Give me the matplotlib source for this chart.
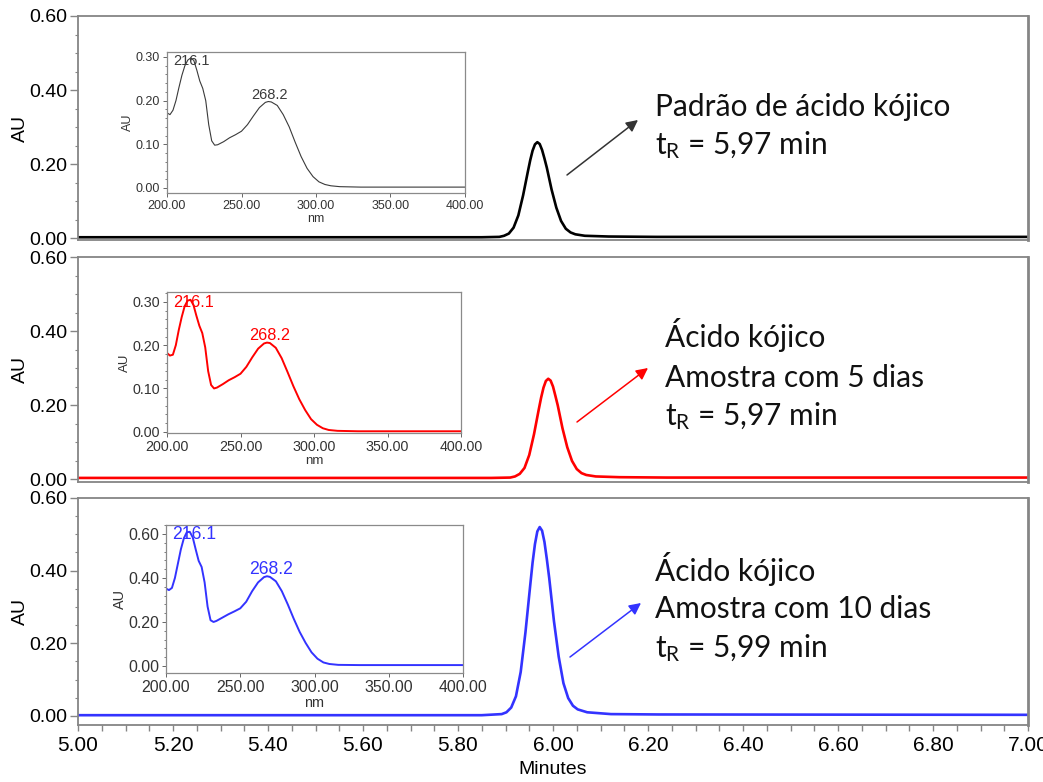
import matplotlib
matplotlib.use("Agg")
import matplotlib.pyplot as plt
from matplotlib.ticker import MultipleLocator, FormatStrFormatter

plt.rcParams['mathtext.fontset'] = 'custom'
plt.rcParams['mathtext.rm'] = 'Lato'
plt.rcParams['mathtext.it'] = 'Lato:italic'

# ---------------- data ----------------
# chromatograms (Minutes, AU)
time_black = [5.00, 5.85, 5.887, 5.897, 5.907, 5.917, 5.927, 5.937, 5.947, 5.952, 5.957, 5.962, 5.967,
              5.972, 5.977, 5.982, 5.987, 5.997, 6.007, 6.017, 6.027, 6.037, 6.047, 6.067, 6.117, 6.217, 7.00]
au_black = [0.002, 0.002, 0.003, 0.006, 0.012, 0.028, 0.061, 0.115, 0.179, 0.210, 0.236, 0.253, 0.259,
            0.254, 0.238, 0.215, 0.190, 0.131, 0.082, 0.046, 0.025, 0.015, 0.010, 0.006, 0.004, 0.003, 0.003]

time_red = [5.00, 5.87, 5.910, 5.920, 5.930, 5.940, 5.950, 5.960, 5.970, 5.975, 5.980, 5.985, 5.990,
            5.995, 6.000, 6.005, 6.010, 6.020, 6.030, 6.040, 6.050, 6.060, 6.070, 6.090, 6.140, 6.240, 7.00]
au_red = [0.003, 0.003, 0.004, 0.007, 0.014, 0.030, 0.065, 0.121, 0.188, 0.220, 0.247, 0.265, 0.271,
          0.266, 0.250, 0.225, 0.199, 0.137, 0.086, 0.049, 0.027, 0.016, 0.011, 0.007, 0.005, 0.004, 0.004]

time_blue = [5.00, 5.85, 5.892, 5.902, 5.912, 5.922, 5.932, 5.942, 5.952, 5.957, 5.962, 5.967, 5.972,
             5.977, 5.982, 5.987, 5.992, 6.002, 6.012, 6.022, 6.032, 6.042, 6.052, 6.072, 6.122, 6.222, 7.00]
au_blue = [0.002, 0.002, 0.005, 0.010, 0.023, 0.054, 0.121, 0.230, 0.359, 0.422, 0.473, 0.508, 0.520,
           0.510, 0.479, 0.432, 0.380, 0.261, 0.163, 0.090, 0.049, 0.028, 0.018, 0.010, 0.005, 0.004, 0.003]

# UV spectra (nm, AU)
wavelength = [200, 202, 204, 206, 208, 210, 212, 214, 216, 218, 220, 222, 224, 226, 228, 230, 232, 234,
              238, 242, 246, 250, 254, 258, 262, 266, 268, 270, 274, 278, 282, 286, 290, 294, 298, 302,
              306, 310, 316, 330, 360, 400]
spec_black = [0.172, 0.168, 0.178, 0.200, 0.230, 0.258, 0.280, 0.293, 0.298, 0.292, 0.270, 0.245, 0.228,
              0.200, 0.145, 0.108, 0.098, 0.099, 0.106, 0.115, 0.122, 0.130, 0.145, 0.165, 0.184, 0.196,
              0.198, 0.197, 0.189, 0.168, 0.140, 0.105, 0.072, 0.045, 0.026, 0.014, 0.008, 0.005, 0.003,
              0.002, 0.002, 0.002]
spec_red = [0.182, 0.176, 0.178, 0.200, 0.235, 0.265, 0.290, 0.303, 0.305, 0.293, 0.268, 0.245, 0.228,
            0.195, 0.140, 0.108, 0.100, 0.102, 0.110, 0.119, 0.126, 0.134, 0.150, 0.172, 0.192, 0.204,
            0.206, 0.205, 0.194, 0.170, 0.138, 0.105, 0.075, 0.050, 0.029, 0.016, 0.008, 0.004, 0.002,
            0.001, 0.001, 0.001]
spec_blue = [0.352, 0.345, 0.355, 0.400, 0.465, 0.530, 0.580, 0.608, 0.610, 0.585, 0.530, 0.478, 0.450,
             0.380, 0.270, 0.208, 0.200, 0.205, 0.220, 0.235, 0.248, 0.262, 0.292, 0.340, 0.380, 0.404,
             0.408, 0.405, 0.385, 0.340, 0.280, 0.215, 0.155, 0.105, 0.062, 0.033, 0.016, 0.009, 0.005,
             0.004, 0.004, 0.004]

peak_wavelengths = [216.1, 268.2]
peak_labels = ["216.1", "268.2"]

main_ticks = [0.00, 0.20, 0.40, 0.60]
x_ticks = [5.00, 5.20, 5.40, 5.60, 5.80, 6.00, 6.20, 6.40, 6.60, 6.80, 7.00]

texts_1 = ["Padrão de ácido kójico", "t$_\\mathrm{R}$ = 5,97 min"]
texts_2 = ["Ácido kójico", "Amostra com 5 dias", "t$_\\mathrm{R}$ = 5,97 min"]
texts_3 = ["Ácido kójico", "Amostra com 10 dias", "t$_\\mathrm{R}$ = 5,99 min"]

# ---------------- layout ----------------
W, H = 1043, 782
fig = plt.figure(figsize=(W / 100, H / 100), dpi=100)


def rect(l, t, r, b):
    return [l / W, 1 - b / H, (r - l) / W, (b - t) / H]


def fx(px):
    return px / W


def fy(py):
    return 1 - py / H


SP = '#858585'
arial = ['Liberation Sans', 'DejaVu Sans']

panels = [
    dict(rect=rect(78, 16, 1028, 240), ylim=(-0.0054, 0.60), t=time_black, y=au_black, c='black',
         inset=rect(167, 52, 465, 193), iylim=(-0.0115, 0.3114), spec=spec_black, ic='#3a3a3a', ilw=0.8,
         iticks=[0.0, 0.1, 0.2, 0.3], iminor=0.02, ifs=9, pfs=10.5, nfs=9,
         texts=texts_1, tx=655, tys=[116, 154], arrow=((567, 175), (638, 120)), ac='#333333'),
    dict(rect=rect(78, 257, 1028, 482), ylim=(-0.008, 0.60), t=time_red, y=au_red, c='#ff0000',
         inset=rect(167, 292, 461, 433), iylim=(-0.003, 0.323), spec=spec_red, ic='#ff0000', ilw=1.4,
         iticks=[0.0, 0.1, 0.2, 0.3], iminor=0.02, ifs=10.3, pfs=11.7, nfs=9.5,
         texts=texts_2, tx=665, tys=[347, 387, 425], arrow=((577, 422), (648, 368)), ac='#ff0000'),
    dict(rect=rect(78, 498, 1028, 725), ylim=(-0.025, 0.60), t=time_blue, y=au_blue, c='#3333ff',
         inset=rect(166, 525, 463, 673), iylim=(-0.032, 0.641), spec=spec_blue, ic='#3333ff', ilw=1.4,
         iticks=[0.0, 0.2, 0.4, 0.6], iminor=0.04, ifs=11.4, pfs=12.7, nfs=10.4,
         texts=texts_3, tx=655, tys=[581, 618, 657], arrow=((570, 657), (641, 603)), ac='#3333ff'),
]

for i, p in enumerate(panels):
    ax = fig.add_axes(p['rect'])
    ax.plot(p['t'], p['y'], color=p['c'], lw=1.9, solid_joinstyle='round')
    ax.set_xlim(5.0, 7.0)
    ax.set_ylim(*p['ylim'])
    ax.set_yticks(main_ticks)
    ax.yaxis.set_minor_locator(MultipleLocator(0.05))
    ax.yaxis.set_major_formatter(FormatStrFormatter('%.2f'))
    for s in ax.spines.values():
        s.set_color(SP)
        s.set_linewidth(1.3)
    ax.spines['right'].set_linewidth(2.0)
    ax.tick_params(axis='y', which='major', length=6, width=1.0, color=SP, pad=1.5, labelsize=14)
    ax.tick_params(axis='y', which='minor', length=2.5, width=0.8, color=SP)
    for lab in ax.get_yticklabels():
        lab.set_family(arial)
    ax.set_ylabel('AU', fontsize=14, family=arial)
    ax.yaxis.set_label_coords((29 - 78) / 950, 0.5)
    if i < 2:
        ax.set_xticks([])
    else:
        ax.set_xticks(x_ticks)
        ax.xaxis.set_major_formatter(FormatStrFormatter('%.2f'))
        ax.xaxis.set_minor_locator(MultipleLocator(0.05))
        ax.tick_params(axis='x', which='both', length=4, width=1.0, color=SP, pad=4, labelsize=15)
        for lab in ax.get_xticklabels():
            lab.set_family(arial)
        ax.set_xlabel('Minutes', fontsize=14, family=arial, labelpad=4)

    # inset spectrum
    ia = fig.add_axes(p['inset'])
    ia.plot(wavelength, p['spec'], color=p['ic'], lw=p['ilw'])
    ia.set_xlim(200, 400)
    ia.set_ylim(*p['iylim'])
    ia.set_xticks([200, 250, 300, 350, 400])
    ia.set_yticks(p['iticks'])
    ia.yaxis.set_minor_locator(MultipleLocator(p['iminor']))
    ia.xaxis.set_major_formatter(FormatStrFormatter('%.2f'))
    ia.yaxis.set_major_formatter(FormatStrFormatter('%.2f'))
    for s in ia.spines.values():
        s.set_color('#8a8a8a')
        s.set_linewidth(0.9)
    ia.tick_params(which='major', length=3, width=0.7, color='#666666', labelsize=p['ifs'],
                   labelcolor='#333333', pad=2)
    ia.tick_params(which='minor', length=1.5, width=0.6, color='#666666')
    for lab in ia.get_xticklabels() + ia.get_yticklabels():
        lab.set_family(arial)
    ia.set_xlabel('nm', fontsize=p['nfs'], family=arial, color='#333333', labelpad=1)
    ia.set_ylabel('AU', fontsize=p['nfs'], family=arial, color='#333333', labelpad=1)
    for k, (wl, lbl) in enumerate(zip(peak_wavelengths, peak_labels)):
        j = min(range(len(wavelength)), key=lambda n: abs(wavelength[n] - wl))
        dy = -2 if k == 0 else 5
        ia.annotate(lbl, xy=(wl, p['spec'][j]), xytext=(-12.8, dy), textcoords='offset points',
                    ha='left', va='center', fontsize=p['pfs'], color=p['ic'], family=arial)

    # text annotations
    for txt, ty in zip(p['texts'], p['tys']):
        fig.text(fx(p['tx']), fy(ty), txt, ha='left', va='baseline', fontsize=21.5, family='Lato',
                 color='#111111')
    (x0, y0), (x1, y1) = p['arrow']
    fig.add_artist(matplotlib.patches.FancyArrowPatch(
        (fx(x0), fy(y0)), (fx(x1), fy(y1)), transform=fig.transFigure,
        arrowstyle='-|>,head_length=7,head_width=3.5', color=p['ac'], lw=1.1,
        shrinkA=0, shrinkB=0))

fig.savefig('out.png', dpi=100)
